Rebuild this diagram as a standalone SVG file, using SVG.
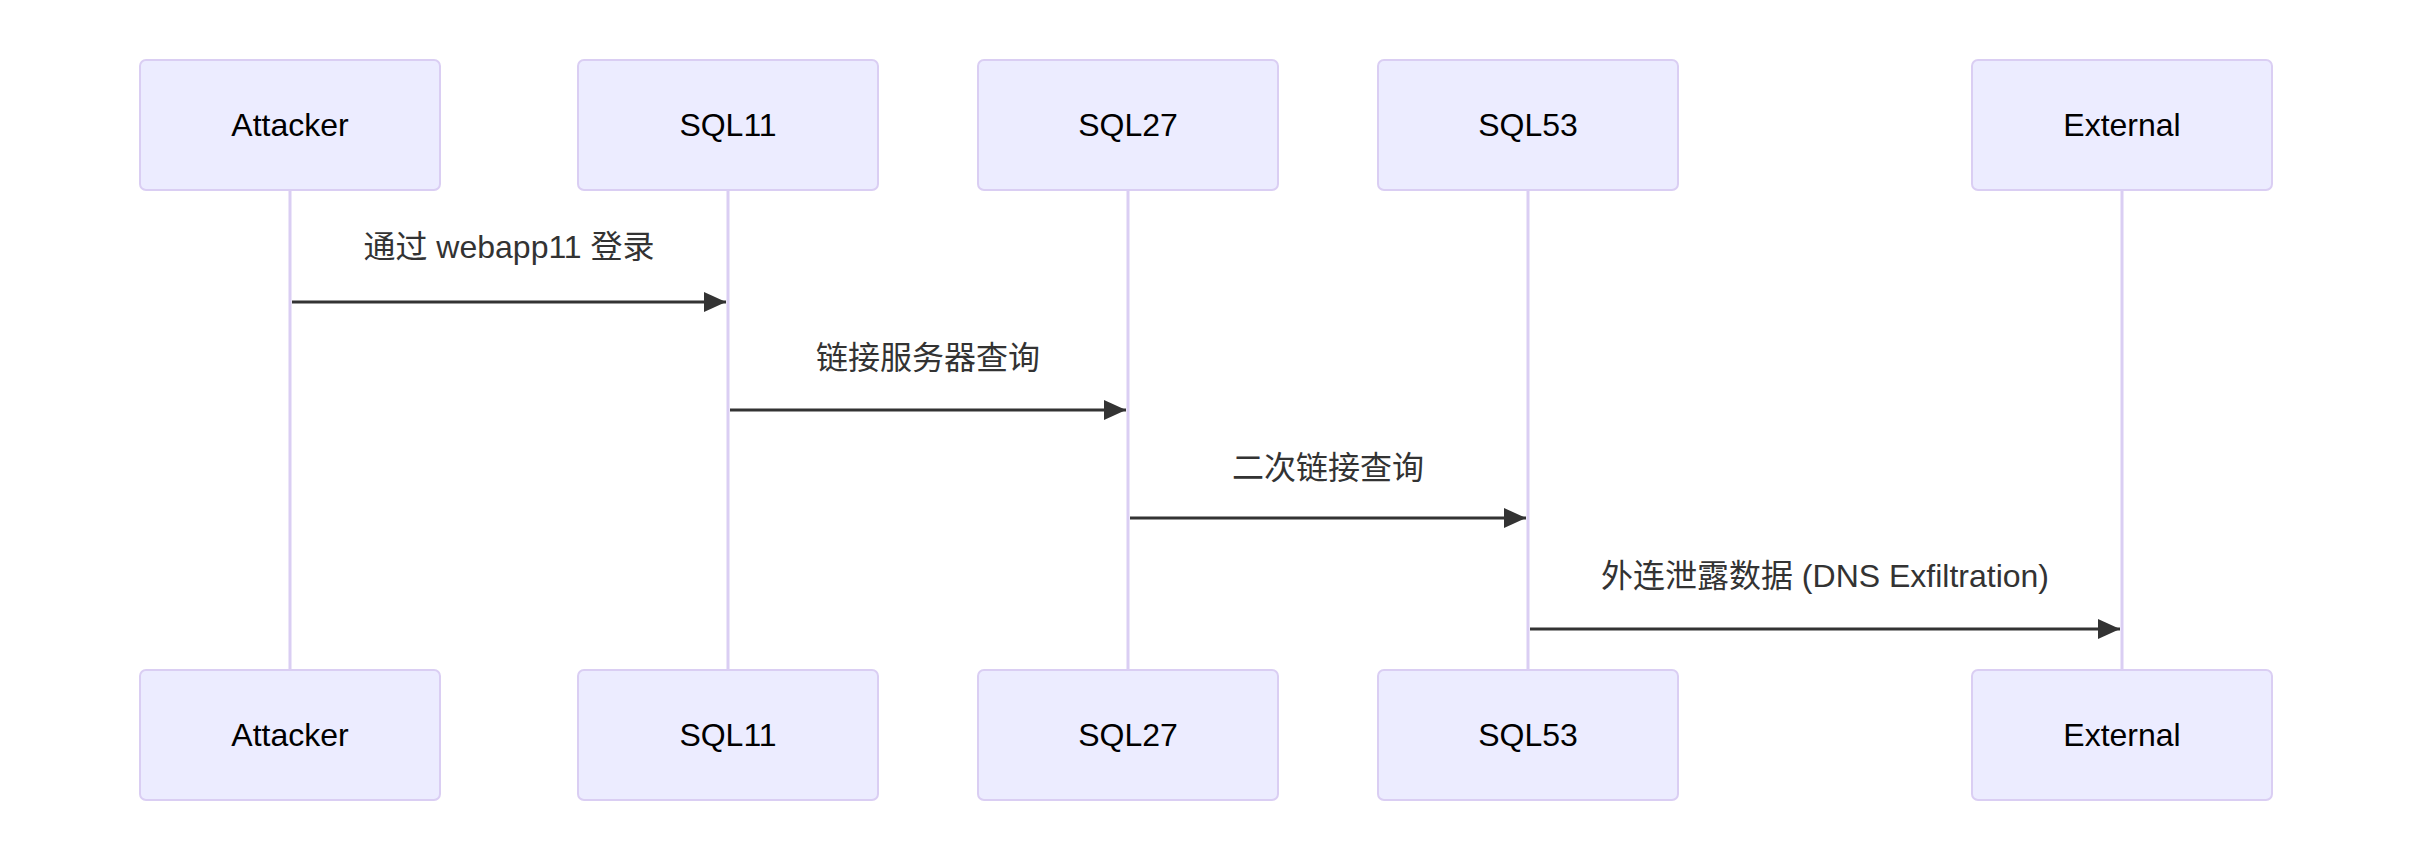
<svg xmlns="http://www.w3.org/2000/svg" width="2412" height="862" viewBox="0 0 2412 862">
  <style>
    .actor { fill: #ECECFF; stroke: #DACEF3; stroke-width: 2; }
    .actor-text { font-family: "Liberation Sans", "Noto Sans CJK SC", sans-serif; font-size: 32px; fill: #000000; text-anchor: middle; dominant-baseline: central; }
    .lifeline { stroke: #DACEF3; stroke-width: 3; fill: none; }
    .msg { stroke: #333333; stroke-width: 3; fill: none; marker-end: url(#arrowhead); }
    .msg-text { font-family: "Liberation Sans", "Noto Sans CJK SC", sans-serif; font-size: 32px; fill: #333333; text-anchor: middle; dominant-baseline: central; }
  </style>
  <defs>
    <marker id="arrowhead" markerUnits="userSpaceOnUse" markerWidth="22" markerHeight="20" refX="22" refY="10" orient="auto">
      <path d="M0,0 L22,10 L0,20 z" fill="#333333"/>
    </marker>
  </defs>
  <rect width="2412" height="862" fill="#ffffff"/>

  <g id="lifelines">
    <line class="lifeline" x1="290" y1="190" x2="290" y2="670"/>
    <line class="lifeline" x1="728" y1="190" x2="728" y2="670"/>
    <line class="lifeline" x1="1128" y1="190" x2="1128" y2="670"/>
    <line class="lifeline" x1="1528" y1="190" x2="1528" y2="670"/>
    <line class="lifeline" x1="2122" y1="190" x2="2122" y2="670"/>
  </g>

  <g id="actor-attacker">
    <rect class="actor" x="140" y="60" width="300" height="130" rx="6" ry="6"/>
    <text class="actor-text" x="290" y="125">Attacker</text>
    <rect class="actor" x="140" y="670" width="300" height="130" rx="6" ry="6"/>
    <text class="actor-text" x="290" y="735">Attacker</text>
  </g>
  <g id="actor-sql11">
    <rect class="actor" x="578" y="60" width="300" height="130" rx="6" ry="6"/>
    <text class="actor-text" x="728" y="125">SQL11</text>
    <rect class="actor" x="578" y="670" width="300" height="130" rx="6" ry="6"/>
    <text class="actor-text" x="728" y="735">SQL11</text>
  </g>
  <g id="actor-sql27">
    <rect class="actor" x="978" y="60" width="300" height="130" rx="6" ry="6"/>
    <text class="actor-text" x="1128" y="125">SQL27</text>
    <rect class="actor" x="978" y="670" width="300" height="130" rx="6" ry="6"/>
    <text class="actor-text" x="1128" y="735">SQL27</text>
  </g>
  <g id="actor-sql53">
    <rect class="actor" x="1378" y="60" width="300" height="130" rx="6" ry="6"/>
    <text class="actor-text" x="1528" y="125">SQL53</text>
    <rect class="actor" x="1378" y="670" width="300" height="130" rx="6" ry="6"/>
    <text class="actor-text" x="1528" y="735">SQL53</text>
  </g>
  <g id="actor-external">
    <rect class="actor" x="1972" y="60" width="300" height="130" rx="6" ry="6"/>
    <text class="actor-text" x="2122" y="125">External</text>
    <rect class="actor" x="1972" y="670" width="300" height="130" rx="6" ry="6"/>
    <text class="actor-text" x="2122" y="735">External</text>
  </g>

  <g id="messages">
    <text class="msg-text" x="509" y="247">通过 webapp11 登录</text>
    <line class="msg" x1="292" y1="302" x2="726" y2="302"/>
    <text class="msg-text" x="928" y="358">链接服务器查询</text>
    <line class="msg" x1="730" y1="410" x2="1126" y2="410"/>
    <text class="msg-text" x="1328" y="468">二次链接查询</text>
    <line class="msg" x1="1130" y1="518" x2="1526" y2="518"/>
    <text class="msg-text" x="1825" y="576">外连泄露数据 (DNS Exfiltration)</text>
    <line class="msg" x1="1530" y1="629" x2="2120" y2="629"/>
  </g>
</svg>
